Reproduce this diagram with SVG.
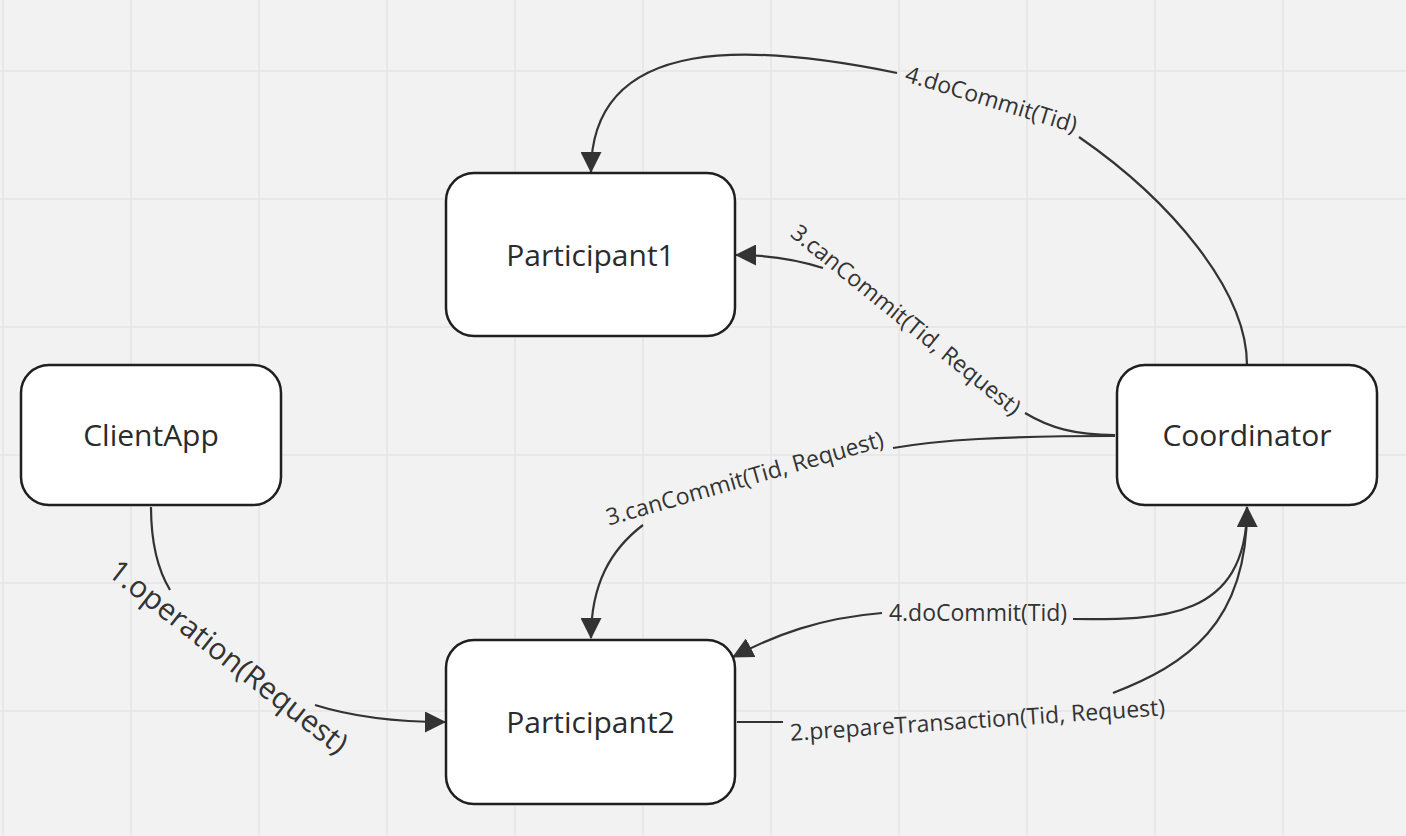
<svg xmlns="http://www.w3.org/2000/svg" width="1406" height="836" viewBox="0 0 1406 836">
<style>
.grid line{stroke:#e4e4e4;stroke-width:1.5}
.node rect{fill:#ffffff;stroke:#1f1f1f;stroke-width:2.5}
.node text{font-family:"Open Sans","Noto Sans","Liberation Sans",sans-serif;font-size:30px;fill:#2b2b2b;text-anchor:middle}
.edge{fill:none;stroke:#333333;stroke-width:2.2;marker-end:url(#arrow)}
.lbl{font-family:"Open Sans","Noto Sans","Liberation Sans",sans-serif;font-size:23px;fill:#333333;text-anchor:middle}
</style>
<defs>
<marker id="arrow" markerUnits="userSpaceOnUse" viewBox="0 0 21 21" markerWidth="21" markerHeight="21" refX="20" refY="10.5" orient="auto">
<path d="M0,0 L21,10.5 L0,21 z" fill="#333333"/>
</marker>
</defs>
<rect x="0" y="0" width="1406" height="836" fill="#f2f2f2"/>
<g class="grid">
<line x1="3" y1="0" x2="3" y2="836"/>
<line x1="131" y1="0" x2="131" y2="836"/>
<line x1="259" y1="0" x2="259" y2="836"/>
<line x1="387" y1="0" x2="387" y2="836"/>
<line x1="515" y1="0" x2="515" y2="836"/>
<line x1="643" y1="0" x2="643" y2="836"/>
<line x1="771" y1="0" x2="771" y2="836"/>
<line x1="899" y1="0" x2="899" y2="836"/>
<line x1="1027" y1="0" x2="1027" y2="836"/>
<line x1="1155" y1="0" x2="1155" y2="836"/>
<line x1="1283" y1="0" x2="1283" y2="836"/>
<line x1="0" y1="71" x2="1406" y2="71"/>
<line x1="0" y1="199" x2="1406" y2="199"/>
<line x1="0" y1="327" x2="1406" y2="327"/>
<line x1="0" y1="455" x2="1406" y2="455"/>
<line x1="0" y1="583" x2="1406" y2="583"/>
<line x1="0" y1="711" x2="1406" y2="711"/>
</g>
<g id="connectors">
<g id="e-docommit-p1">
<path class="edge" d="M1247,365 C1247,290 1170,200 1079,137 M897,73 C760,45 591,30 591,172"/>
<text class="lbl" x="989" y="107" transform="rotate(17 989 107)">4.doCommit(Tid)</text>
</g>
<g id="e-cancommit-p1">
<path class="edge" d="M1115,435 C1075,435 1050,428 1025,413 M823,268 C795,259 770,255 736,255"/>
<text class="lbl" x="901" y="326" transform="rotate(39 901 326)">3.canCommit(Tid, Request)</text>
</g>
<g id="e-cancommit-p2">
<path class="edge" d="M1115,436 C1000,436 940,440 893,448 M643,525 C610,550 591,585 591,638"/>
<text class="lbl" x="747" y="486" transform="rotate(-16 747 486)">3.canCommit(Tid, Request)</text>
</g>
<g id="e-docommit-p2">
<path class="edge" d="M1247,507 C1247,620 1160,620 1073,619 M882,613 C820,618 775,635 733,657"/>
<text class="lbl" x="978" y="621">4.doCommit(Tid)</text>
</g>
<g id="e-prepare">
<path class="edge" d="M737,722 L783,722 M1113,693 C1185,665 1248,625 1247,507"/>
<text class="lbl" x="978" y="728" transform="rotate(-3.9 978 728)">2.prepareTransaction(Tid, Request)</text>
</g>
<g id="e-operation">
<path class="edge" d="M151,507 C151,545 158,570 170,590 M315,705 C350,716 390,722 445,722"/>
<text class="lbl" x="222" y="665" style="font-size:30px" transform="rotate(38 222 665)">1.operation(Request)</text>
</g>
</g>
<g id="participant1" class="node">
<rect x="446" y="173" width="289" height="163" rx="28" ry="28"/>
<text x="590.5" y="266">Participant1</text>
</g>
<g id="clientapp" class="node">
<rect x="21" y="365" width="260" height="140" rx="28" ry="28"/>
<text x="151" y="446">ClientApp</text>
</g>
<g id="coordinator" class="node">
<rect x="1117" y="365" width="260" height="140" rx="28" ry="28"/>
<text x="1247" y="446">Coordinator</text>
</g>
<g id="participant2" class="node">
<rect x="446" y="640" width="289" height="164" rx="28" ry="28"/>
<text x="590.5" y="733">Participant2</text>
</g>
</svg>
